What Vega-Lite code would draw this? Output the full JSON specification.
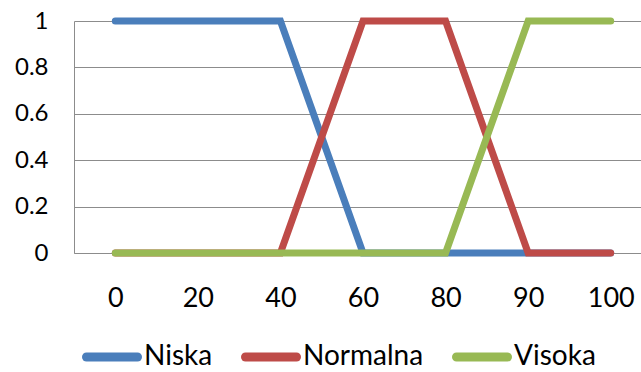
{
  "$schema": "https://vega.github.io/schema/vega-lite/v6.json",
  "width": 578,
  "height": 232,
  "autosize": {"type": "none"},
  "padding": {"left": 74, "top": 21, "right": 0, "bottom": 119},
  "background": "white",
  "config": {
    "view": {"stroke": null},
    "font": "Lato",
    "axis": {
      "gridColor": "#8c8c8c",
      "gridWidth": 1,
      "domainColor": "#8c8c8c",
      "domainWidth": 1,
      "ticks": false,
      "labelColor": "#000000",
      "labelFont": "Lato",
      "title": null
    }
  },
  "data": {
    "values": [
      {"x": 0, "serija": "Niska", "v": 1},
      {"x": 20, "serija": "Niska", "v": 1},
      {"x": 40, "serija": "Niska", "v": 1},
      {"x": 60, "serija": "Niska", "v": 0},
      {"x": 80, "serija": "Niska", "v": 0},
      {"x": 90, "serija": "Niska", "v": 0},
      {"x": 100, "serija": "Niska", "v": 0},
      {"x": 0, "serija": "Normalna", "v": 0},
      {"x": 20, "serija": "Normalna", "v": 0},
      {"x": 40, "serija": "Normalna", "v": 0},
      {"x": 60, "serija": "Normalna", "v": 1},
      {"x": 80, "serija": "Normalna", "v": 1},
      {"x": 90, "serija": "Normalna", "v": 0},
      {"x": 100, "serija": "Normalna", "v": 0},
      {"x": 0, "serija": "Visoka", "v": 0},
      {"x": 20, "serija": "Visoka", "v": 0},
      {"x": 40, "serija": "Visoka", "v": 0},
      {"x": 60, "serija": "Visoka", "v": 0},
      {"x": 80, "serija": "Visoka", "v": 0},
      {"x": 90, "serija": "Visoka", "v": 1},
      {"x": 100, "serija": "Visoka", "v": 1}
    ]
  },
  "mark": {"type": "line", "strokeWidth": 7, "strokeCap": "round", "strokeJoin": "miter"},
  "encoding": {
    "x": {
      "field": "x",
      "type": "ordinal",
      "scale": {"type": "point", "padding": 0.5},
      "axis": {
        "labelAngle": 0,
        "labelFontSize": 27,
        "labelBaseline": "alphabetic",
        "labelPadding": 53,
        "grid": false
      }
    },
    "y": {
      "field": "v",
      "type": "quantitative",
      "scale": {"domain": [0, 1], "nice": false},
      "axis": {
        "values": [0, 0.2, 0.4, 0.6, 0.8, 1],
        "format": "~g",
        "labelFontSize": 24,
        "labelPadding": 26,
        "grid": true
      }
    },
    "color": {
      "field": "serija",
      "type": "nominal",
      "scale": {
        "domain": ["Niska", "Normalna", "Visoka"],
        "range": ["#4a7ebb", "#be4b48", "#98b954"]
      },
      "legend": {
        "title": null,
        "orient": "none",
        "direction": "horizontal",
        "legendX": 8,
        "legendY": 306,
        "padding": 0,
        "symbolType": "stroke",
        "symbolSize": 2601,
        "symbolStrokeWidth": 9,
        "labelFontSize": 28,
        "labelColor": "#000000",
        "labelOffset": 2,
        "columnPadding": 14,
        "encode": {"symbols": {"update": {"strokeCap": {"value": "round"}}}}
      }
    }
  }
}
